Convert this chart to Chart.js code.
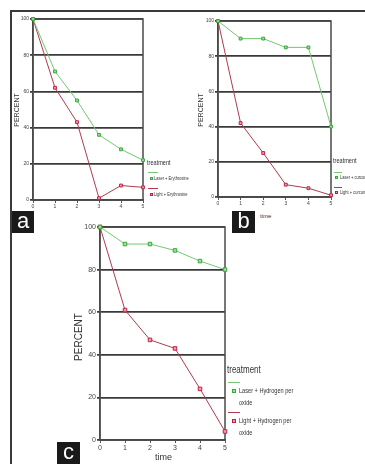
<!DOCTYPE html>
<html>
<head>
<meta charset="utf-8">
<script src="https://cdn.jsdelivr.net/npm/chart.js@4"></script>
<style>
  html, body { margin: 0; padding: 0; background: #fff; }
  body { width: 365px; height: 464px; position: relative; overflow: hidden; font-family: "Liberation Sans", Arial, sans-serif; color: #333; }
  canvas, .txt, .box, .frame { position: absolute; }
  .frame { background: #3a3a3a; }
  .box { background: #1a1a1a; color: #fff; text-align: center; font-size: 22px; line-height: 20px; }
  .txt { white-space: nowrap; }
  .narrow { transform: scaleX(0.8); transform-origin: left top; }
  .vert { transform: translate(-50%, -50%) rotate(-90deg); }
  .seg { position: absolute; height: 1px; }
  .mk { position: absolute; box-sizing: border-box; }
</style>
</head>
<body>
<div class="frame" style="left:10px;top:10px;width:2px;height:454px"></div>
<div class="frame" style="left:10px;top:10px;width:355px;height:2px"></div>

<canvas id="chartA" width="137" height="200" style="left:11px;top:12px"></canvas>
<canvas id="chartB" width="140" height="197" style="left:196px;top:12px"></canvas>
<canvas id="chartC" width="150" height="234" style="left:80px;top:220px"></canvas>

<div class="txt vert" style="left:16px;top:110px;font-size:7px">PERCENT</div>
<div class="txt vert" style="left:200px;top:110px;font-size:7px">PERCENT</div>
<div class="txt vert" style="left:78px;top:337px;font-size:10px">PERCENT</div>

<div class="txt" style="left:260px;top:213px;font-size:6px">time</div>
<div class="txt" style="left:155px;top:452px;font-size:9px">time</div>

<div class="box" style="left:12px;top:211px;width:22px;height:22px">a</div>
<div class="box" style="left:232px;top:211px;width:23px;height:22px">b</div>
<div class="box" style="left:57px;top:442px;width:23px;height:24px">c</div>

<div id="legendA"></div>
<div id="legendB"></div>
<div id="legendC"></div>

<script>
const times = [0, 1, 2, 3, 4, 5];
const yTicks = [0, 20, 40, 60, 80, 100];

const laserErythrosine = [100, 71, 55, 36, 28, 22];
const lightErythrosine = [100, 62, 43, 1, 8, 7];

const laserCurcumin = [100, 90, 90, 85, 85, 40];
const lightCurcumin = [100, 42, 25, 7, 5, 1];

const laserPeroxide = [100, 92, 92, 89, 84, 80];
const lightPeroxide = [100, 61, 47, 43, 24, 4];

const GREEN = '#74c874';
const RED = '#b03a4e';

// outline of the plot area, drawn under the lines
const boxPlugin = {
    id: 'box',
    beforeDatasetsDraw(chart) {
        const a = chart.chartArea;
        const ctx = chart.ctx;
        ctx.save();
        ctx.strokeStyle = '#4a4a4a';
        ctx.lineWidth = 1.5;
        ctx.strokeRect(a.left, a.top, a.right - a.left, a.bottom - a.top);
        ctx.restore();
    }
};

function makeChart(id, laser, light, o) {
    return new Chart(document.getElementById(id), {
        type: 'line',
        data: {
            labels: times,
            datasets: [
                { data: laser, borderColor: GREEN, borderWidth: 1, pointStyle: 'rect',
                  pointRadius: o.pr, pointBackgroundColor: '#9be09b', pointBorderColor: '#3aa83a', pointBorderWidth: 1 },
                { data: light, borderColor: RED, borderWidth: 1, pointStyle: 'rect',
                  pointRadius: o.pr, pointBackgroundColor: '#f0a0b0', pointBorderColor: '#c02040', pointBorderWidth: 1 }
            ]
        },
        options: {
            responsive: false,
            animation: false,
            clip: false,
            layout: { padding: { left: 0, top: o.top, right: 4, bottom: 0 } },
            plugins: { legend: { display: false }, tooltip: { enabled: false } },
            scales: {
                x: {
                    offset: false,
                    grid: { drawOnChartArea: false, drawTicks: true, tickLength: 3, color: '#555' },
                    border: { color: '#4a4a4a', width: 1.5 },
                    ticks: { font: { size: o.fs, family: 'Liberation Sans' }, color: '#444', padding: 1, maxRotation: 0 },
                    afterFit: s => { s.height = o.xh; }
                },
                y: {
                    min: 0, max: 100,
                    afterBuildTicks: s => { s.ticks = yTicks.map(v => ({ value: v })); },
                    grid: { color: '#3a3a3a', lineWidth: 1.8, tickLength: 3 },
                    border: { color: '#4a4a4a', width: 1.5 },
                    ticks: { font: { size: o.fs, family: 'Liberation Sans' }, color: '#444', padding: 1 },
                    afterFit: s => { s.width = o.yw; }
                }
            }
        },
        plugins: [boxPlugin]
    });
}

makeChart('chartA', laserErythrosine, lightErythrosine, { top: 7, yw: 22, xh: 12, fs: 5, pr: 2 });
makeChart('chartB', laserCurcumin, lightCurcumin, { top: 9, yw: 22, xh: 12, fs: 5, pr: 2 });
makeChart('chartC', laserPeroxide, lightPeroxide, { top: 7, yw: 20, xh: 14, fs: 7, pr: 2.5 });

// SPSS style legend: title, line sample, then marker + label
function legend(el, x, y, s, names) {
    const f = s.fs;
    let h = `<div class="txt narrow" style="left:${x}px;top:${y}px;font-size:${s.title}px;line-height:${s.title}px">treatment</div>`;
    const cols = [[GREEN, '#9be09b', '#3aa83a'], [RED, '#f0a0b0', '#c02040']];
    names.forEach((lines, i) => {
        const base = y + s.first + i * s.step;
        h += `<div class="seg" style="left:${x + 1}px;top:${base}px;width:${s.seg}px;background:${cols[i][0]}"></div>`;
        h += `<div class="mk" style="left:${x + s.mx}px;top:${base + s.my}px;width:${s.ms}px;height:${s.ms}px;background:${cols[i][1]};border:1px solid ${cols[i][2]}"></div>`;
        lines.forEach((t, j) => {
            h += `<div class="txt narrow" style="left:${x + s.tx}px;top:${base + s.ty + j * s.lh}px;font-size:${f}px;line-height:${f}px">${t}</div>`;
        });
    });
    document.getElementById(el).innerHTML = h;
}

legend('legendA', 147, 159, { title: 7, fs: 5, first: 13, step: 16, seg: 10, mx: 3, my: 5, ms: 3, tx: 7, ty: 4, lh: 8 },
    [['Laser + Erythrosine'], ['Light + Erythrosine']]);
legend('legendB', 333, 157, { title: 7, fs: 5, first: 15, step: 15, seg: 8, mx: 2, my: 4, ms: 3, tx: 7, ty: 3, lh: 8 },
    [['Laser + curcumin'], ['Light + curcumin']]);
legend('legendC', 227, 365, { title: 10, fs: 7, first: 17, step: 30, seg: 12, mx: 5, my: 7, ms: 4, tx: 12, ty: 5, lh: 12 },
    [['Laser + Hydrogen per', 'oxide'], ['Light + Hydrogen per', 'oxide']]);
</script>
</body>
</html>
